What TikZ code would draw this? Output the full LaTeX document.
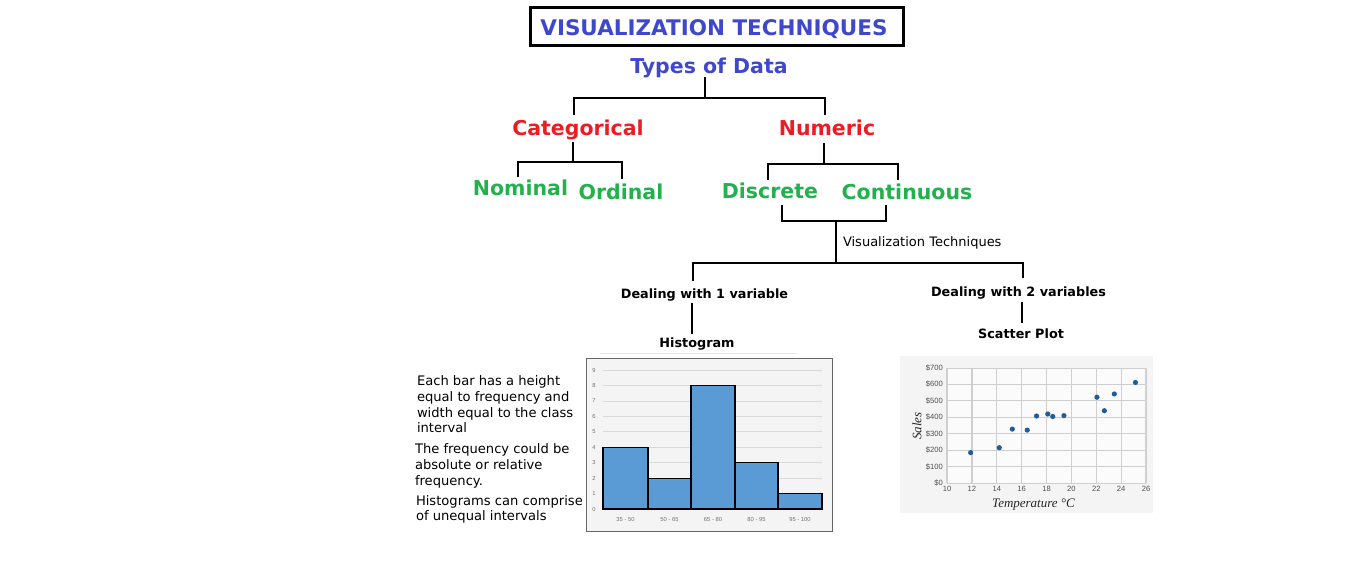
\documentclass[tikz,border=0pt]{standalone}
\usepackage{fontspec}
\setmainfont{DejaVu Sans}
\newfontfamily\chartfont{Liberation Sans}
\newfontfamily\chartserif{Liberation Serif}
\definecolor{tblue}{HTML}{3F48CC}
\definecolor{tred}{HTML}{ED1C24}
\definecolor{tgreen}{HTML}{22B14C}
\definecolor{barblue}{HTML}{5B9BD5}
\definecolor{dotblue}{HTML}{1F5C99}
\definecolor{gridgray}{HTML}{D9D9D9}
\definecolor{sgrid}{HTML}{CFCFCF}
\definecolor{labgray}{HTML}{707070}
\definecolor{slab}{HTML}{505050}
\definecolor{panelbg}{HTML}{F4F4F4}
\begin{document}
\begin{tikzpicture}[x=1pt,y=-1pt,
  every node/.style={inner sep=0pt, outer sep=0pt},
  titletext/.style={font=\fontsize{21.5}{26}\selectfont\bfseries, text=tblue, anchor=base},
  lvlone/.style={font=\fontsize{20.5}{25}\selectfont\bfseries, text=tblue, anchor=base},
  lvltwo/.style={font=\fontsize{20.5}{25}\selectfont\bfseries, text=tred, anchor=base},
  lvlthree/.style={font=\fontsize{20.5}{25}\selectfont\bfseries, text=tgreen, anchor=base},
  techlabel/.style={font=\fontsize{12.8}{15}\selectfont\bfseries, anchor=base},
  plainlabel/.style={font=\fontsize{13}{15}\selectfont, anchor=base west},
  bodytext/.style={font=\fontsize{13.1}{16}\selectfont, anchor=base west},
  conn/.style={line width=1.2pt, black},
  axlab/.style={font=\chartfont\fontsize{5.8}{7}\selectfont, text=labgray},
  saxlab/.style={font=\chartfont\fontsize{7.6}{9}\selectfont, text=slab},
  ]
\useasboundingbox (0,0) rectangle (1360,563);
\fill[white] (0,0) rectangle (1360,563);

% ---- title
\node[draw, line width=3.3pt, minimum width=372.6pt, minimum height=37.6pt] (titlebox) at (717,26.5) {};
\node[titletext] (title) at (714,35) {VISUALIZATION TECHNIQUES};

% ---- tree nodes
\node[lvlone] (tod) at (709,73) {Types of Data};
\node[lvltwo] (cat) at (578,135) {Categorical};
\node[lvltwo] (num) at (827,135) {Numeric};
\node[lvlthree] (nom) at (520.5,195) {Nominal};
\node[lvlthree] (ord) at (621,199) {Ordinal};
\node[lvlthree] (dis) at (770,198) {Discrete};
\node[lvlthree] (con) at (907,199) {Continuous};
\node[plainlabel] (vt) at (843,246) {Visualization Techniques};
\node[techlabel] (d1) at (704.5,298) {Dealing with 1 variable};
\node[techlabel] (d2) at (1018.5,296) {Dealing with 2 variables};
\node[techlabel] (hist) at (697,347) {Histogram};
\node[techlabel] (scat) at (1021,338) {Scatter Plot};

% ---- connector end points
\coordinate (tod-s) at (705,77);
\coordinate (tod-j) at (705,98);
\coordinate (cat-n) at (574,115);
\coordinate (num-n) at (825,115);
\coordinate (cat-s) at (573,142);
\coordinate (cat-j) at (573,162);
\coordinate (nom-n) at (518,177);
\coordinate (ord-n) at (622,179);
\coordinate (num-s) at (824,143);
\coordinate (num-j) at (824,164);
\coordinate (dis-n) at (768,180);
\coordinate (con-n) at (898,180);
\coordinate (dis-s) at (782,205);
\coordinate (con-s) at (886,205);
\coordinate (vt-j) at (836,221);
\coordinate (vt-b) at (836,263);
\coordinate (d1-n) at (693,281);
\coordinate (d2-n) at (1023,278);
\coordinate (d1-s) at (692,303);
\coordinate (hist-n) at (692,334);
\coordinate (d2-s) at (1022,302);
\coordinate (scat-n) at (1022,323);

\draw[conn] (tod-s) -- (tod-j);
\draw[conn] (cat-n) |- (tod-j) -| (num-n);
\draw[conn] (cat-s) -- (cat-j);
\draw[conn] (nom-n) |- (cat-j) -| (ord-n);
\draw[conn] (num-s) -- (num-j);
\draw[conn] (dis-n) |- (num-j) -| (con-n);
\draw[conn] (dis-s) |- (vt-j) -| (con-s);
\draw[conn] (vt-j) -- (vt-b);
\draw[conn] (d1-n) |- (vt-b) -| (d2-n);
\draw[conn] (d1-s) -- (hist-n);
\draw[conn] (d2-s) -- (scat-n);

% ---- explanatory text
\node[bodytext] (e1) at (417,385) {Each bar has a height};
\node[bodytext] (e2) at (417,401) {equal to frequency and};
\node[bodytext] (e3) at (417,417) {width equal to the class};
\node[bodytext] (e4) at (417,432) {interval};
\node[bodytext] (f1) at (415,453) {The frequency could be};
\node[bodytext] (f2) at (415,469) {absolute or relative};
\node[bodytext] (f3) at (415,485) {frequency.};
\node[bodytext] (g1) at (416,505) {Histograms can comprise};
\node[bodytext] (g2) at (416,520) {of unequal intervals};

% ---- histogram chart
\draw[gridgray!70, line width=0.6pt] (600,353) -- (797,353);
\fill[panelbg] (586,358) rectangle (832,531);
\draw[black!60, line width=1pt] (586,358) rectangle (832,531);
\begin{scope}[xshift=603pt, yshift=-509pt, x=1pt, y=15.44pt]
  \foreach \i in {0,...,9} {
    \draw[gridgray, line width=0.8pt] (0,\i) -- (219,\i);
    \node[axlab] (hy\i) at (-9,\i) {\i};
  }
  \foreach \a/\b/\h in {0/45/4, 45/88/2, 88/132/8, 132/175/3, 175/219/1}
    \draw[fill=barblue, line width=1.1pt] (\a,0) rectangle (\b,\h);
  \foreach \c/\t/\n in {22.5/35 - 50/a, 66.5/50 - 65/b, 110/65 - 80/c, 153.5/80 - 95/d, 197/95 - 100/e}
    \node[axlab] (hx\n) at (\c,-0.71) {\t};
\end{scope}

% ---- scatter chart
\fill[panelbg] (900,356) rectangle (1153,513);
\fill[white!60!panelbg] (947,368) rectangle (1146,483);
\begin{scope}[xshift=947pt, yshift=-483pt, x=12.44pt, y=0.1643pt]
  \foreach \k in {0,...,7}
    \draw[sgrid, line width=0.8pt] (0,\k*100) -- (16,\k*100);
  \foreach \t in {10,12,...,26} {
    \draw[sgrid, line width=1.3pt] ({\t-10},0) -- ({\t-10},700);
    \node[saxlab, anchor=north] (sx\t) at ({\t-10},-20) {\t};
  }
  \foreach \k/\t in {0/\$0, 100/\$100, 200/\$200, 300/\$300, 400/\$400, 500/\$500, 600/\$600, 700/\$700}
    \node[saxlab, anchor=east] (sy\k) at (-0.33,\k) {\t};
  \foreach \a/\b in {11.9/185, 14.2/215, 15.25/328, 16.45/322, 17.2/408, 18.1/420, 18.5/405, 19.4/410, 22.05/522, 22.65/440, 23.45/542, 25.15/612}
    \fill[dotblue] ({\a-10},\b) circle[radius=2.6pt];
\end{scope}
\node[font=\chartserif\itshape\fontsize{13}{15}\selectfont, rotate=90, text=black!85] (sales) at (917,426) {Sales};
\node[font=\chartserif\itshape\fontsize{13}{15}\selectfont, anchor=base, text=black!85] (temp) at (1033.5,507) {Temperature °C};
\end{tikzpicture}
\end{document}
